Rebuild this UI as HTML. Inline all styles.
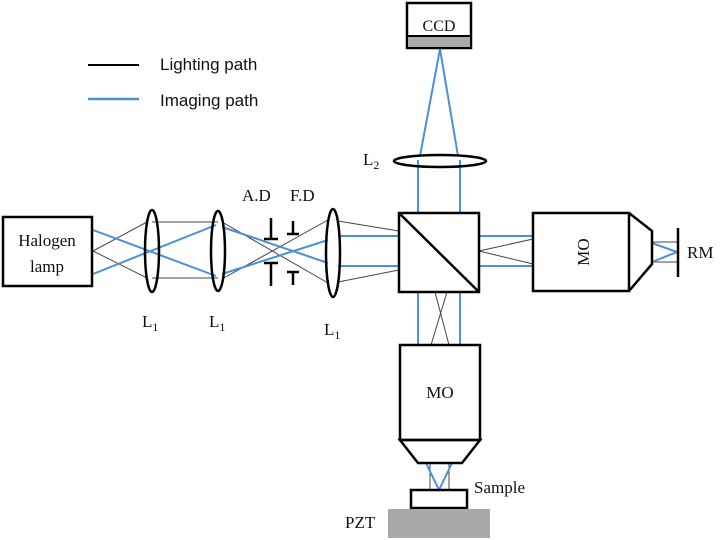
<!DOCTYPE html>
<html><head><style>body{margin:0;background:#fff}svg{display:block}</style></head><body>
<svg width="720" height="540" viewBox="0 0 720 540" xmlns="http://www.w3.org/2000/svg">
<g font-family="Liberation Sans, sans-serif" font-size="17" fill="#111">
<line x1="88" y1="65" x2="139" y2="65" stroke="#000" stroke-width="2"/>
<text x="160" y="70">Lighting path</text>
<line x1="88" y1="99" x2="139" y2="99" stroke="#4a90d9" stroke-width="2.5"/>
<text x="160" y="106">Imaging path</text>
</g>
<g stroke="#444" stroke-width="1" fill="none">
<line x1="93" y1="251" x2="147" y2="222"/><line x1="93" y1="251" x2="147" y2="278"/>
<line x1="152" y1="222" x2="218" y2="222"/><line x1="152" y1="278" x2="218" y2="278"/>
<line x1="222" y1="222" x2="328" y2="283"/><line x1="222" y1="279" x2="328" y2="220"/>
<line x1="338" y1="221" x2="399" y2="231"/><line x1="338" y1="282" x2="399" y2="270"/>
<line x1="479" y1="251" x2="533" y2="239"/><line x1="479" y1="251" x2="533" y2="264"/>
<line x1="435" y1="292" x2="449" y2="345"/><line x1="447" y1="292" x2="431" y2="345"/>
<line x1="430" y1="463" x2="430" y2="490"/><line x1="449" y1="463" x2="449" y2="490"/>
<line x1="652" y1="242" x2="678" y2="242"/><line x1="652" y1="262" x2="678" y2="262"/>
</g>
<g stroke="#4a90d9" stroke-width="2" fill="none">
<line x1="93" y1="230" x2="216" y2="276"/><line x1="93" y1="274" x2="216" y2="225"/>
<line x1="222" y1="227" x2="328" y2="263"/><line x1="222" y1="274" x2="328" y2="240"/>
<line x1="338" y1="236" x2="399" y2="236"/><line x1="338" y1="266" x2="399" y2="266"/>
<line x1="479" y1="236" x2="533" y2="236"/><line x1="479" y1="266" x2="533" y2="266"/>
<line x1="418" y1="160" x2="418" y2="213"/><line x1="460" y1="160" x2="460" y2="213"/>
<line x1="420" y1="156" x2="440" y2="49"/><line x1="458" y1="156" x2="440" y2="49"/>
<line x1="418" y1="292" x2="418" y2="345"/><line x1="460" y1="292" x2="460" y2="345"/>
<polyline points="426,463 439,490 452,463"/>
<polyline points="652,243 677,252 652,262"/>
</g>
<g stroke="#000" stroke-width="2.5" fill="none">
<rect x="3" y="217" width="89" height="69" fill="#fff"/>
<ellipse cx="152" cy="251" rx="7" ry="41"/>
<ellipse cx="218" cy="251" rx="7" ry="40"/>
<ellipse cx="333" cy="253" rx="7" ry="44"/>
<ellipse cx="440" cy="161" rx="46" ry="6"/>
<line x1="271" y1="218" x2="271" y2="239"/><line x1="264" y1="239" x2="278" y2="239"/>
<line x1="271" y1="263" x2="271" y2="286"/><line x1="264" y1="263" x2="278" y2="263"/>
<line x1="293" y1="221" x2="293" y2="234"/><line x1="287" y1="234" x2="299" y2="234"/>
<line x1="293" y1="272" x2="293" y2="285"/><line x1="287" y1="272" x2="299" y2="272"/>
<rect x="399" y="213" width="80" height="79"/>
<line x1="399" y1="213" x2="479" y2="292"/>
<rect x="533" y="213" width="96" height="78"/>
<polyline points="629,213 652,231 652,264 629,291"/>
<line x1="678" y1="228" x2="678" y2="277"/>
<rect x="400" y="345" width="80" height="95"/>
<polygon points="400,440 480,440 462,463 418,463"/>
<rect x="411" y="490" width="56" height="18"/>
<rect x="407" y="3" width="64" height="45"/>
</g>
<rect x="408" y="36" width="62" height="11" fill="#aaa"/>
<line x1="407" y1="36" x2="471" y2="36" stroke="#000" stroke-width="2"/>
<rect x="388" y="509" width="102" height="29" fill="#a9a9a9"/>
<g font-family="Liberation Serif, serif" font-size="17" fill="#111">
<text x="47" y="246" text-anchor="middle">Halogen</text>
<text x="47" y="272" text-anchor="middle">lamp</text>
<text x="142" y="327">L<tspan font-size="12" dy="4">1</tspan></text>
<text x="209" y="327">L<tspan font-size="12" dy="4">1</tspan></text>
<text x="324" y="335">L<tspan font-size="12" dy="4">1</tspan></text>
<text x="363" y="165">L<tspan font-size="12" dy="4">2</tspan></text>
<text x="242" y="201">A.D</text>
<text x="290" y="201">F.D</text>
<text x="439" y="31" text-anchor="middle" font-size="16">CCD</text>
<text x="440" y="398" text-anchor="middle">MO</text>
<text transform="translate(589,252) rotate(-90)" text-anchor="middle">MO</text>
<text x="687" y="258">RM</text>
<text x="474" y="493">Sample</text>
<text x="345" y="528">PZT</text>
</g>
</svg>
</body></html>
